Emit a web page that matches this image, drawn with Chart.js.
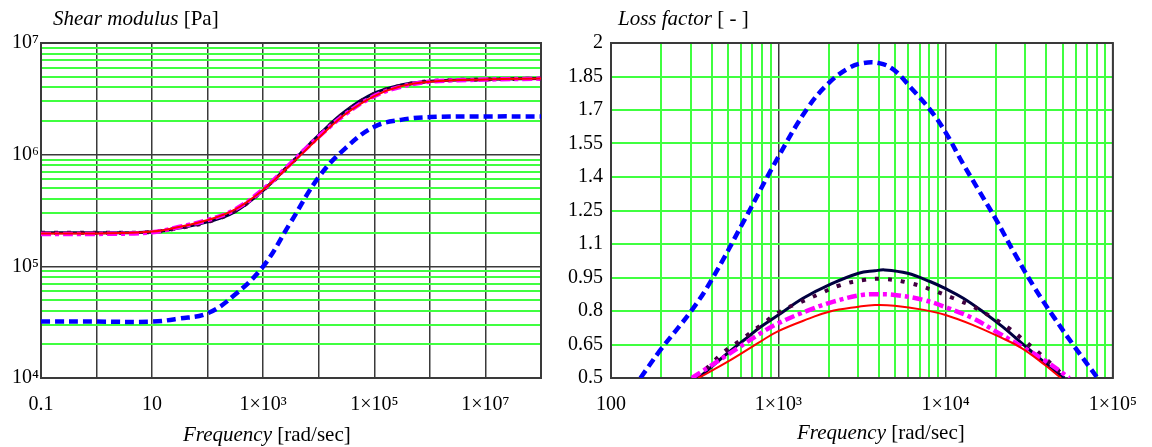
<!DOCTYPE html>
<html>
<head>
<meta charset="utf-8">
<script src="https://cdn.jsdelivr.net/npm/chart.js@4"></script>
<style>
  body { margin: 0; background: #fff; }
  #wrap { position: relative; width: 1152px; height: 447px; }
  canvas { position: absolute; top: 0; }
  .lbl { position: absolute; font-family: "Liberation Serif", serif; font-size: 21px; line-height: 21px; color: #000; white-space: nowrap; }
  .lbl i { font-style: italic; }
</style>
</head>
<body>
<div id="wrap">
  <canvas id="shearChart" width="560" height="447" style="left:0"></canvas>
  <canvas id="lossChart" width="592" height="447" style="left:560px"></canvas>
  <div class="lbl" style="left:53px; top:8px"><i>Shear modulus</i> [Pa]</div>
  <div class="lbl" style="left:618px; top:8px"><i>Loss factor</i> [ - ]</div>
  <div class="lbl" style="left:183px; top:424px"><i>Frequency</i> [rad/sec]</div>
  <div class="lbl" style="left:797px; top:422px"><i>Frequency</i> [rad/sec]</div>
</div>
<script>
// ---- shear modulus (left), common frequency grid [rad/sec]
const shearFreq = [0.1, 1, 10, 30, 100, 300, 1e3, 3e3, 1e4, 3e4, 1e5, 3e5, 1e6, 1e7, 1e8];
const shearNavy    = [2.0e5, 2.0e5, 2.03e5, 2.2e5, 2.5e5, 3.05e5, 4.8e5, 8.2e5, 1.5e6, 2.45e6, 3.55e6, 4.2e6, 4.55e6, 4.72e6, 4.8e6];
const shearDotted  = [2.0e5, 2.0e5, 2.03e5, 2.2e5, 2.5e5, 3.1e5, 4.8e5, 8.1e5, 1.48e6, 2.4e6, 3.5e6, 4.15e6, 4.55e6, 4.72e6, 4.8e6];
const shearMagenta = [1.95e5, 1.95e5, 2.02e5, 2.25e5, 2.6e5, 3.2e5, 4.9e5, 8.2e5, 1.45e6, 2.3e6, 3.35e6, 4.05e6, 4.5e6, 4.7e6, 4.8e6];
const shearRed     = [1.97e5, 1.97e5, 2.05e5, 2.25e5, 2.6e5, 3.2e5, 4.85e5, 8.0e5, 1.42e6, 2.3e6, 3.35e6, 4.1e6, 4.5e6, 4.72e6, 4.8e6];
const shearBlue    = [3.2e4, 3.2e4, 3.2e4, 3.4e4, 3.8e4, 5.5e4, 1.0e5, 2.4e5, 6.3e5, 1.14e6, 1.78e6, 2.05e6, 2.17e6, 2.2e6, 2.2e6];

// ---- loss factor (right), one frequency list per curve
const lossBlueF = [150, 195, 305, 400, 630, 1000, 1500, 2000, 2600, 3200, 4000, 4900, 6200, 8100, 1e4, 12700, 15800, 2e4, 26200, 34300, 44900, 59000, 81000];
const lossBlueV = [0.5, 0.62, 0.805, 0.94, 1.21, 1.49, 1.71, 1.82, 1.885, 1.91, 1.91, 1.88, 1.80, 1.70, 1.60, 1.46, 1.34, 1.21, 1.05, 0.90, 0.767, 0.64, 0.5];
const lossNavyF = [333, 499, 625, 782, 1000, 1406, 2014, 3020, 3784, 4325, 5929, 8128, 1e4, 12764, 16711, 21878, 28641, 37584, 51286];
const lossNavyV = [0.5, 0.612, 0.67, 0.728, 0.782, 0.857, 0.917, 0.969, 0.98, 0.984, 0.969, 0.931, 0.90, 0.857, 0.797, 0.73, 0.655, 0.58, 0.5];
const lossDotF = [325, 476, 597, 782, 1023, 1343, 1758, 2291, 3236, 4365, 6209, 8318, 11143, 14588, 18621, 23988, 29992, 39811, 52481];
const lossDotV = [0.5, 0.618, 0.67, 0.735, 0.797, 0.838, 0.876, 0.913, 0.939, 0.943, 0.924, 0.894, 0.857, 0.82, 0.775, 0.722, 0.663, 0.585, 0.5];
const lossMagF = [304, 430, 571, 782, 1000, 1538, 2138, 3162, 3981, 4955, 7413, 10420, 14588, 20893, 28641, 39811, 54954];
const lossMagV = [0.5, 0.573, 0.633, 0.70, 0.745, 0.805, 0.842, 0.872, 0.875, 0.872, 0.849, 0.812, 0.767, 0.70, 0.64, 0.575, 0.5];
const lossRedF = [333, 499, 782, 1000, 1538, 2014, 3020, 3784, 4955, 7413, 1e4, 14588, 20893, 28641, 39264, 48978];
const lossRedV = [0.5, 0.573, 0.663, 0.71, 0.767, 0.797, 0.819, 0.827, 0.824, 0.805, 0.782, 0.737, 0.685, 0.633, 0.558, 0.5];

// ---- ticks / labels
const shearXTicks = [0.1, 1, 10, 100, 1e3, 1e4, 1e5, 1e6, 1e7, 1e8];
const shearXLabelVals = [0.1, 10, 1e3, 1e5, 1e7];
const shearXLabels = ['0.1', '10', '1\u00d710\u00b3', '1\u00d710\u2075', '1\u00d710\u2077'];
const shearYDecades = [1e4, 1e5, 1e6, 1e7];
const shearYLabels = ['10\u2074', '10\u2075', '10\u2076', '10\u2077'];
const lossXDecades = [100, 1e3, 1e4, 1e5];
const lossXLabels = ['100', '1\u00d710\u00b3', '1\u00d710\u2074', '1\u00d710\u2075'];
const lossYTicks = [0.5, 0.65, 0.8, 0.95, 1.1, 1.25, 1.4, 1.55, 1.7, 1.85, 2];
const lossYLabels = ['0.5', '0.65', '0.8', '0.95', '1.1', '1.25', '1.4', '1.55', '1.7', '1.85', '2'];
const minorMult = [1, 2, 3, 4, 5, 6, 7, 8, 9];

const GREEN = 'rgb(64,255,64)';
const DARK = '#3a3a3a';
const tickFont = { family: 'Liberation Serif', size: 20 };

function logGrid(decades) {
  let out = [];
  decades.forEach((d, i) => {
    if (i === decades.length - 1) { out.push(d); return; }
    minorMult.forEach(m => out.push(d * m));
  });
  return out;
}
function sameLog(a, b) { return Math.abs(Math.log10(a) - Math.log10(b)) < 1e-6; }
function isDecade(v) { return Math.abs(Math.log10(v) - Math.round(Math.log10(v))) < 1e-6; }
function pts(xs, ys) { return xs.map((x, i) => ({ x: x, y: ys[i] })); }

const frame = {
  id: 'frame',
  beforeDatasetsDraw(chart) {
    const a = chart.chartArea, ctx = chart.ctx;
    ctx.save();
    ctx.strokeStyle = DARK;
    ctx.lineWidth = 2;
    ctx.strokeRect(a.left, a.top, a.right - a.left, a.bottom - a.top);
    ctx.restore();
  }
};

const styles = {
  navy:    { borderColor: '#000040', borderWidth: 3 },
  dotted:  { borderColor: '#400040', borderWidth: 4, borderDash: [4, 9] },
  magenta: { borderColor: '#ff00ff', borderWidth: 4.5, borderDash: [10, 4, 4, 4] },
  red:     { borderColor: '#ff0000', borderWidth: 2 },
  blue:    { borderColor: '#0000ff', borderWidth: 4.5, borderDash: [9, 5] }
};
function ds(pointsArr, st) {
  return Object.assign({ data: pointsArr, fill: false, pointRadius: 0, tension: 0.4 }, st);
}

new Chart(document.getElementById('shearChart'), {
  type: 'line',
  data: {
    datasets: [
      ds(pts(shearFreq, shearBlue), styles.blue),
      ds(pts(shearFreq, shearRed), styles.red),
      ds(pts(shearFreq, shearMagenta), styles.magenta),
      ds(pts(shearFreq, shearDotted), styles.dotted),
      ds(pts(shearFreq, shearNavy), styles.navy)
    ]
  },
  options: {
    responsive: false,
    animation: false,
    layout: { padding: { top: 43, right: 19, left: 0, bottom: 0 } },
    plugins: { legend: { display: false }, tooltip: { enabled: false } },
    scales: {
      x: {
        type: 'logarithmic', min: 0.1, max: 1e8,
        afterBuildTicks: s => { s.ticks = shearXTicks.map(v => ({ value: v })); },
        afterFit: s => { s.height = 69; },
        grid: { color: DARK, lineWidth: 1.5, drawTicks: false },
        border: { display: false },
        ticks: {
          autoSkip: false, maxRotation: 0, padding: 15, color: '#000', font: tickFont,
          callback: v => { const i = shearXLabelVals.findIndex(t => sameLog(t, v)); return i < 0 ? '' : shearXLabels[i]; }
        }
      },
      y: {
        type: 'logarithmic', min: 1e4, max: 1e7,
        afterBuildTicks: s => { s.ticks = logGrid(shearYDecades).map(v => ({ value: v })); },
        afterFit: s => { s.width = 41; },
        grid: { color: c => isDecade(c.tick.value) ? DARK : GREEN, lineWidth: c => isDecade(c.tick.value) ? 1.5 : 2, drawTicks: false },
        border: { display: false },
        ticks: {
          autoSkip: false, padding: 2, color: '#000', font: tickFont,
          callback: v => { const i = shearYDecades.findIndex(t => sameLog(t, v)); return i < 0 ? '' : shearYLabels[i]; }
        }
      }
    }
  },
  plugins: [frame]
});

new Chart(document.getElementById('lossChart'), {
  type: 'line',
  data: {
    datasets: [
      ds(pts(lossBlueF, lossBlueV), styles.blue),
      ds(pts(lossRedF, lossRedV), styles.red),
      ds(pts(lossMagF, lossMagV), styles.magenta),
      ds(pts(lossDotF, lossDotV), styles.dotted),
      ds(pts(lossNavyF, lossNavyV), styles.navy)
    ]
  },
  options: {
    responsive: false,
    animation: false,
    layout: { padding: { top: 43, right: 30, left: 0, bottom: 0 } },
    plugins: { legend: { display: false }, tooltip: { enabled: false } },
    scales: {
      x: {
        type: 'logarithmic', min: 100, max: 1e5,
        afterBuildTicks: s => { s.ticks = logGrid(lossXDecades).map(v => ({ value: v })); },
        afterFit: s => { s.height = 69; },
        grid: { color: c => isDecade(c.tick.value) ? DARK : GREEN, lineWidth: c => isDecade(c.tick.value) ? 1.5 : 2, drawTicks: false },
        border: { display: false },
        ticks: {
          autoSkip: false, maxRotation: 0, padding: 15, color: '#000', font: tickFont,
          callback: v => { const i = lossXDecades.findIndex(t => sameLog(t, v)); return i < 0 ? '' : lossXLabels[i]; }
        }
      },
      y: {
        type: 'linear', min: 0.5, max: 2,
        afterBuildTicks: s => { s.ticks = lossYTicks.map(v => ({ value: v })); },
        afterFit: s => { s.width = 51; },
        grid: { color: GREEN, lineWidth: 2, drawTicks: false },
        border: { display: false },
        ticks: {
          autoSkip: false, padding: 8, color: '#000', font: tickFont,
          callback: (v, i) => lossYLabels[i]
        }
      }
    }
  },
  plugins: [frame]
});
</script>
</body>
</html>
